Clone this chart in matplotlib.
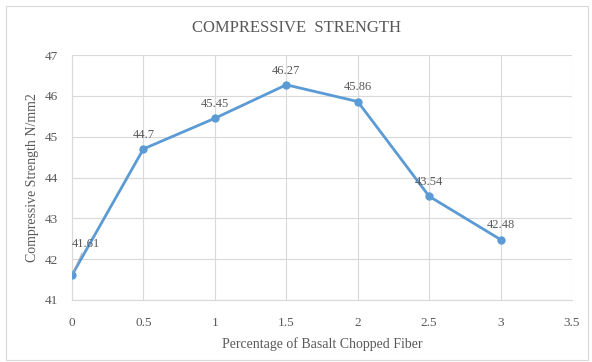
import matplotlib.pyplot as plt
from matplotlib.patches import Rectangle

plt.rcParams['font.family'] = ['Liberation Serif', 'DejaVu Serif']

fiber = [0, 0.5, 1, 1.5, 2, 2.5, 3]
strength = [41.61, 44.7, 45.45, 46.27, 45.86, 43.54, 42.48]

txt = '#595959'
grid = '#d9d9d9'

fig = plt.figure(figsize=(5.92, 3.62), dpi=100)
ax = fig.add_axes([72 / 592, 62 / 362, 500 / 592, 245 / 362])

# chart frame
fig.patches.append(Rectangle((6 / 592, 2 / 362), 582 / 592, 354 / 362, transform=fig.transFigure,
                             fill=False, edgecolor=grid, linewidth=0.8))

ax.plot(fiber, strength, color='#5b9bd5', linewidth=2, marker='o', markersize=5, zorder=3)

for x, y in zip(fiber, strength):
    if x == 0:
        ax.annotate(f'{y:g}', (x, y), xytext=(10, 20), textcoords='offset points', ha='center',
                    fontsize=9, color=txt,
                    arrowprops=dict(arrowstyle='-', color='#a6a6a6', lw=0.6, shrinkA=0, shrinkB=2))
    else:
        ax.annotate(f'{y:g}', (x, y), xytext=(0, 8), textcoords='offset points', ha='center',
                    fontsize=9, color=txt)

ax.set_xlim(0, 3.5)
ax.set_ylim(41, 47)
ax.set_xticks([0, 0.5, 1, 1.5, 2, 2.5, 3, 3.5])
ax.set_xticklabels(['0', '0.5', '1', '1.5', '2', '2.5', '3', '3.5'])
ax.set_yticks(range(41, 48))
ax.grid(True, color=grid, linewidth=0.8)
ax.set_axisbelow(True)
for s in ['top', 'right']:
    ax.spines[s].set_visible(False)
for s in ['left', 'bottom']:
    ax.spines[s].set_color(grid)
ax.tick_params(length=0, colors=txt, labelsize=9.5)
ax.tick_params(axis='x', pad=12)
ax.tick_params(axis='y', pad=10)

ax.set_xlabel('Percentage of Basalt Chopped Fiber', fontsize=10, color=txt, labelpad=6)
ax.set_ylabel('Compressive Strength N/mm2', fontsize=10, color=txt, labelpad=4)
fig.text(0.5, 0.922, 'COMPRESSIVE  STRENGTH', ha='center', va='center', fontsize=12, color=txt)

fig.savefig('out.png', dpi=100)
